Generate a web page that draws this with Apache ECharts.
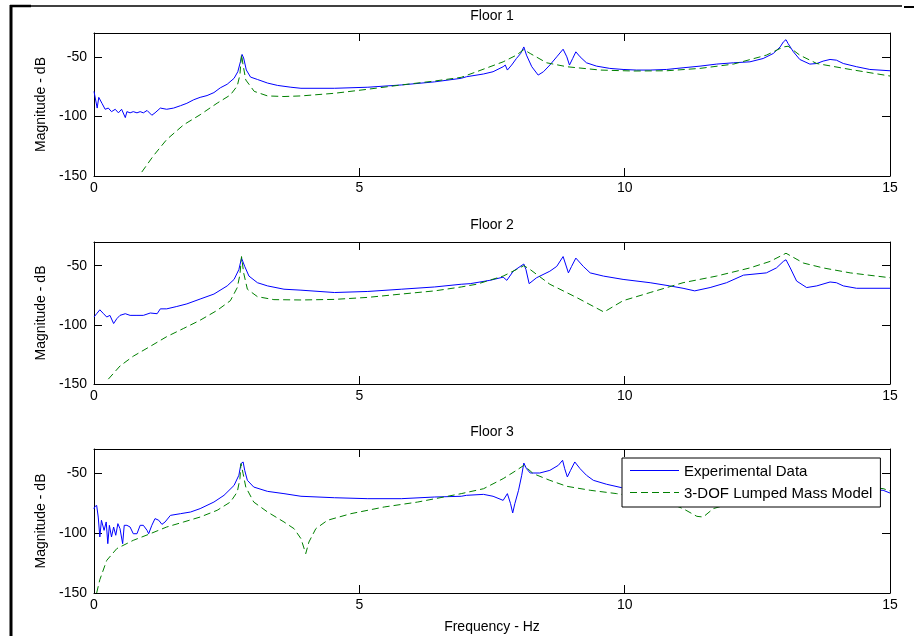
<!DOCTYPE html>
<html>
<head>
<meta charset="utf-8">
<script src="https://cdn.jsdelivr.net/npm/echarts@6/dist/echarts.min.js"></script>
<style>
    html, body {margin: 0; padding: 0; background: #fff;}
    #chart {width: 914px; height: 636px;}
</style>
</head>
<body>
<div id="chart"></div>
<script>
// frequency response per floor (Hz / dB)
const floorTitles = ['Floor 1', 'Floor 2', 'Floor 3'];
const xTicks = [0, 5, 10, 15];
const yTicks = [-150, -100, -50];

const floor1ExpHz = [0, 0.02, 0.06, 0.09, 0.15, 0.21, 0.27, 0.33, 0.40, 0.46, 0.52, 0.59, 0.62, 0.68, 0.74, 0.81, 0.87, 0.93, 1.0, 1.09, 1.15, 1.25, 1.37, 1.50, 1.63, 1.75, 1.88, 2.0, 2.13, 2.26, 2.38, 2.51, 2.64, 2.71, 2.76, 2.79, 2.82, 2.87, 2.95, 3.08, 3.27, 3.46, 3.71, 3.90, 4.53, 5.16, 5.79, 6.42, 6.92,
    7.02, 7.34, 7.52, 7.71, 7.75, 7.79, 7.87, 7.96, 8.04, 8.10, 8.15, 8.25, 8.37, 8.47, 8.59, 8.72, 8.84, 8.91, 8.96, 9.02, 9.08, 9.16, 9.28, 9.47, 9.72, 9.97, 10.22, 10.48, 10.79, 11.10, 11.42, 11.73, 12.05, 12.36, 12.61, 12.80, 12.93, 12.99, 13.04, 13.08, 13.18, 13.30, 13.49, 13.62, 13.74, 13.87, 13.99, 14.12, 14.37, 14.62, 15.0];
const floor1ExpDb = [-79, -80.6, -93, -84, -89, -94, -93, -96, -94, -97, -94, -101, -96, -97, -96, -97, -96, -97, -95, -99, -97, -93, -94, -93, -91, -89, -86, -84, -82.5, -80, -76, -73, -68, -62.5, -54, -48, -51, -61, -67, -69, -72, -74, -75.5, -76.4, -76.4, -75.5, -73.6, -71, -68,
    -66.7, -64.4, -62.5, -58.3, -56.9, -61.1, -56.9, -51.4, -47.2, -41.7, -48.6, -58.3, -65.3, -62.5, -56.9, -50, -43.6, -50, -56.9, -51.4, -45.8, -50, -55, -57.8, -59.7, -60.6, -61.1, -61.1, -60.6, -59.2, -57.8, -56.1, -55, -54.2, -51.4, -47.2, -41.7, -37.5, -35.6, -38.9, -45.8, -52.2, -56.1, -55.6, -53.6, -52.2, -52.8, -55.6, -58.3, -60.6, -61.7];
const floor1ModelHz = [0.90, 1.12, 1.37, 1.69, 2.0, 2.32, 2.57, 2.70, 2.75, 2.78, 2.81, 2.86, 3.02, 3.27, 3.58, 3.90, 4.53, 5.16, 5.79, 6.42, 6.92, 7.21, 7.71, 7.96, 8.10, 8.22, 8.53, 8.91, 9.54, 10.16, 10.79, 11.42, 12.05, 12.67, 12.99, 13.08, 13.30, 13.62, 14.25, 15.0];
const floor1ModelDb = [-146.7, -133, -119.4, -107, -98.6, -88.9, -82, -74.4, -65, -48, -57, -69.4, -79, -82.8, -83.3, -82.8, -80.6, -77.2, -73.6, -70.3, -67.2, -62.5, -54.2, -48.6, -43.9, -47.2, -55, -58.3, -61.1, -61.9, -61.7, -59.7, -56.1, -48.6, -41.7, -41.1, -48.6, -55.6, -60.6, -66.1];

const floor2ExpHz = [0, 0.05, 0.11, 0.18, 0.24, 0.30, 0.37, 0.43, 0.49, 0.59, 0.68, 0.81, 0.93, 1.06, 1.19, 1.25, 1.37, 1.56, 1.75, 2.0, 2.26, 2.51, 2.64, 2.73, 2.78, 2.81, 2.84, 2.92, 3.08, 3.27, 3.58, 3.90, 4.53, 5.16, 5.79, 6.42, 6.92,
    7.09, 7.46, 7.71, 7.78, 7.90, 8.10, 8.14, 8.20, 8.34, 8.59, 8.72, 8.84, 8.94, 9.0, 9.08, 9.22, 9.35, 9.60, 9.97, 10.48, 10.85, 11.10, 11.32, 11.61, 11.92, 12.24, 12.67, 12.86, 12.99, 13.04, 13.12, 13.24, 13.43, 13.62, 13.87, 13.99, 14.12, 14.37, 15.0];
const floor2ExpDb = [-93.4, -90.6, -87.3, -90.6, -93.4, -92, -98.9, -94.8, -92, -90.6, -92, -92, -92, -90, -90.6, -86.5, -86.5, -84.5, -82.3, -78.2, -74, -67.1, -61.6, -53.3, -43.6, -43, -50.6, -58.8, -64.4, -67.1, -69.9, -70.7, -72.7, -71.8, -69.9, -68, -65.7,
    -65.2, -62.4, -59.7, -62.4, -54.7, -48.6, -53.3, -65.2, -60.2, -54.7, -50.6, -42.3, -56.1, -50.6, -43.6, -50.6, -56.1, -58.8, -61.6, -64.4, -67.1, -69.1, -71.3, -68.5, -64.4, -58, -56.1, -51.9, -46.4, -45, -51.9, -63, -68.5, -67.1, -63.8, -64.4, -67.1, -69.1, -69.1];
const floor2ModelHz = [0.27, 0.49, 0.74, 1.06, 1.37, 1.69, 2.0, 2.32, 2.57, 2.70, 2.75, 2.78, 2.82, 2.89, 3.08, 3.39, 3.90, 4.53, 5.16, 5.79, 6.42, 6.92, 7.21, 7.71, 7.96, 8.10, 8.22, 8.59, 9.09, 9.61, 9.97, 10.48, 11.10, 11.73, 12.36, 12.74, 13.04, 13.37, 13.74, 14.25, 15.0];
const floor2ModelDb = [-145.9, -134.8, -126.5, -118.2, -110, -103, -96.1, -87.8, -79.6, -68.5, -57.5, -42.3, -56.1, -69.9, -76.2, -78.7, -79, -78.5, -76.8, -74, -71.3, -68, -65.7, -58.8, -53.3, -50, -53.3, -65.7, -76.8, -89.2, -79.6, -72.7, -64.4, -58.8, -51.9, -46.4, -39.5, -47.8, -51.9, -56.1, -60.2];

const floor3ExpHz = [0, 0.01, 0.05, 0.08, 0.11, 0.14, 0.19, 0.23, 0.26, 0.29, 0.33, 0.37, 0.41, 0.45, 0.49, 0.54, 0.57, 0.62, 0.68, 0.74, 0.81, 0.87, 0.93, 1.0, 1.03, 1.09, 1.15, 1.22, 1.28, 1.34, 1.44, 1.63, 1.82, 2.0, 2.26, 2.45, 2.64, 2.73, 2.77, 2.81, 2.84, 2.89, 3.01, 3.27, 3.58, 3.90, 4.53, 5.16, 5.79, 6.42, 6.92,
    7.02, 7.34, 7.52, 7.71, 7.79, 7.85, 7.89, 7.93, 8.00, 8.06, 8.10, 8.15, 8.22, 8.40, 8.59, 8.75, 8.83, 8.87, 8.92, 8.98, 9.06, 9.16, 9.28, 9.41, 9.66, 9.94, 10.5, 11.0, 11.5, 12.0, 12.5, 12.9, 13.05, 13.2, 13.5, 14.0, 14.5, 14.87, 15.0];
const floor3ExpDb = [-80, -78.3, -77, -86.7, -103.3, -89.4, -97.8, -90.8, -108.9, -93.6, -103.3, -95, -101.9, -92.2, -96.4, -108.9, -93.6, -93.6, -95, -100.6, -100.6, -93.6, -93.6, -97.8, -100.6, -93.6, -88, -89.4, -92.8, -90.8, -85.3, -83.9, -82.5, -79.7, -74.2, -68.6, -60.3, -51.9, -42.2, -40.8, -47.8, -56.1, -61.7, -65.3, -67.2, -69.4, -70.6, -71.4, -71.4, -70, -69.4,
    -68.6, -67.8, -69.4, -72.8, -67.2, -75.6, -83.3, -75.6, -64.4, -51.9, -41.7, -46.4, -50, -50, -47.8, -43.6, -39.4, -46.4, -53.3, -47.8, -40.8, -46.4, -51.9, -56.1, -59.4, -62.2, -63.5, -64, -64, -62, -58, -52, -48, -55, -60, -62, -64, -64.4, -66.7];
const floor3ModelHz = [0.05, 0.11, 0.24, 0.43, 0.74, 1.06, 1.37, 1.69, 2.0, 2.32, 2.57, 2.70, 2.75, 2.77, 2.81, 2.86, 3.01, 3.27, 3.58, 3.77, 3.90, 3.99, 4.05, 4.18, 4.40, 4.84, 5.47, 6.10, 6.92,
    7.34, 7.71, 7.96, 8.10, 8.28, 8.59, 8.91, 9.35, 9.85, 10.35, 10.79, 11.10, 11.36, 11.48, 11.67, 11.98, 12.3, 12.6, 12.9, 13.05, 13.2, 13.6, 14.2, 14.87, 15.0];
const floor3ModelDb = [-150, -138.9, -122.8, -113, -106.1, -100.6, -95, -90.8, -86.7, -81.1, -74.2, -65.8, -54.7, -42.2, -50.6, -61.7, -74.2, -82.5, -90.8, -96.4, -104.7, -117.2, -107.5, -96.4, -89.4, -83.9, -78.3, -74.2, -67.2,
    -63.1, -54.7, -47.8, -43.6, -50.6, -56.1, -61.1, -64.4, -67.2, -70.6, -74.2, -79.7, -86.1, -86.7, -79.7, -75.6, -70, -63, -55, -50, -53, -58, -61, -63, -65];

const floorExp = [[floor1ExpHz, floor1ExpDb], [floor2ExpHz, floor2ExpDb], [floor3ExpHz, floor3ExpDb]];
const floorModel = [[floor1ModelHz, floor1ModelDb], [floor2ModelHz, floor2ModelDb], [floor3ModelHz, floor3ModelDb]];

const FONT = '"Liberation Sans", Arial, Helvetica, sans-serif';
const EXP_COLOR = '#0000ff';
const MODEL_COLOR = '#008000';
const MODEL_DASH = [7, 4];
const gridTops = [33, 242, 449];
const gridHeights = [143, 142, 144];

function pairs(hz, db) {
    return hz.map((f, i) => [f, db[i]]);
}

let chart = echarts.init(document.getElementById('chart'));

let grids = [], xAxes = [], yAxes = [], series = [];
for (let i = 0; i < 3; i++) {
    grids.push({left: 94, top: gridTops[i], width: 796, height: gridHeights[i], containLabel: false});

    let tick = {show: true, inside: true, length: 8, lineStyle: {color: '#000', width: 1}};
    let line = {show: true, onZero: false, lineStyle: {color: '#000', width: 1}};
    // bottom axis with labels
    xAxes.push({
        type: 'value', gridIndex: i, position: 'bottom', min: 0, max: 15, interval: 5,
        axisLine: line, axisTick: tick, splitLine: {show: false},
        axisLabel: {color: '#000', fontFamily: FONT, fontSize: 14, margin: 5,
            formatter: v => xTicks.indexOf(v) >= 0 ? String(v) : ''},
        name: i === 2 ? 'Frequency - Hz' : '', nameLocation: 'middle', nameGap: 27,
        nameTextStyle: {color: '#000', fontFamily: FONT, fontSize: 14}
    });
    // top axis: box edge + floor title
    xAxes.push({
        type: 'value', gridIndex: i, position: 'top', min: 0, max: 15, interval: 5,
        axisLine: line, axisTick: tick, splitLine: {show: false}, axisLabel: {show: false},
        name: floorTitles[i], nameLocation: 'middle', nameGap: 10,
        nameTextStyle: {color: '#000', fontFamily: FONT, fontSize: 14, verticalAlign: 'bottom'}
    });
    yAxes.push({
        type: 'value', gridIndex: i, position: 'left', min: -150, max: -30, interval: 50,
        axisLine: line, axisTick: tick, splitLine: {show: false},
        axisLabel: {color: '#000', fontFamily: FONT, fontSize: 14, margin: 7,
            formatter: v => yTicks.indexOf(v) >= 0 ? String(v) : ''},
        name: 'Magnitude - dB', nameLocation: 'middle', nameGap: 42, nameRotate: 90,
        nameTextStyle: {color: '#000', fontFamily: FONT, fontSize: 14}
    });
    yAxes.push({
        type: 'value', gridIndex: i, position: 'right', min: -150, max: -30, interval: 50,
        axisLine: line, axisTick: tick, splitLine: {show: false}, axisLabel: {show: false}
    });

    series.push({
        name: 'Experimental Data', type: 'line', xAxisIndex: 2 * i, yAxisIndex: 2 * i,
        data: pairs(floorExp[i][0], floorExp[i][1]),
        symbol: 'none', clip: true, z: 2,
        lineStyle: {color: EXP_COLOR, width: 1}, itemStyle: {color: EXP_COLOR}
    });
    series.push({
        name: '3-DOF Lumped Mass Model', type: 'line', xAxisIndex: 2 * i, yAxisIndex: 2 * i,
        data: pairs(floorModel[i][0], floorModel[i][1]),
        symbol: 'none', clip: true, z: 3,
        lineStyle: {color: MODEL_COLOR, width: 1, type: MODEL_DASH}, itemStyle: {color: MODEL_COLOR}
    });
}

chart.setOption({
    animation: false,
    backgroundColor: '#fff',
    grid: grids,
    xAxis: xAxes,
    yAxis: yAxes,
    series: series,
    // legend gives box + text; its key icons are hidden and re-drawn below
    legend: {
        data: ['Experimental Data', '3-DOF Lumped Mass Model'],
        icon: 'rect',
        orient: 'vertical', left: 622, top: 458,
        padding: [6, 8, 6, 8], itemWidth: 49, itemHeight: 14, itemGap: 7,
        backgroundColor: '#fff', borderColor: '#000', borderWidth: 1, borderRadius: 0,
        selectedMode: false, z: 10,
        itemStyle: {opacity: 0},
        textStyle: {color: '#000', fontFamily: FONT, fontSize: 15}
    },
    graphic: [
        // figure frame edges from the screenshot
        {type: 'line', shape: {x1: 10, y1: 6, x2: 902, y2: 6}, style: {stroke: '#000', lineWidth: 1.5}},
        {type: 'line', shape: {x1: 10, y1: 6, x2: 31, y2: 6}, style: {stroke: '#000', lineWidth: 2.5}},
        {type: 'line', shape: {x1: 904, y1: 7, x2: 914, y2: 7}, style: {stroke: '#000', lineWidth: 2}},
        {type: 'line', shape: {x1: 11, y1: 5, x2: 11, y2: 636}, style: {stroke: '#000', lineWidth: 3}},
        // legend keys
        {type: 'line', z: 100, shape: {x1: 630, y1: 470.5, x2: 679, y2: 470.5},
            style: {stroke: EXP_COLOR, lineWidth: 1}},
        {type: 'line', z: 100, shape: {x1: 630, y1: 492.5, x2: 679, y2: 492.5},
            style: {stroke: MODEL_COLOR, lineWidth: 1, lineDash: MODEL_DASH}}
    ]
});
</script>
</body>
</html>
